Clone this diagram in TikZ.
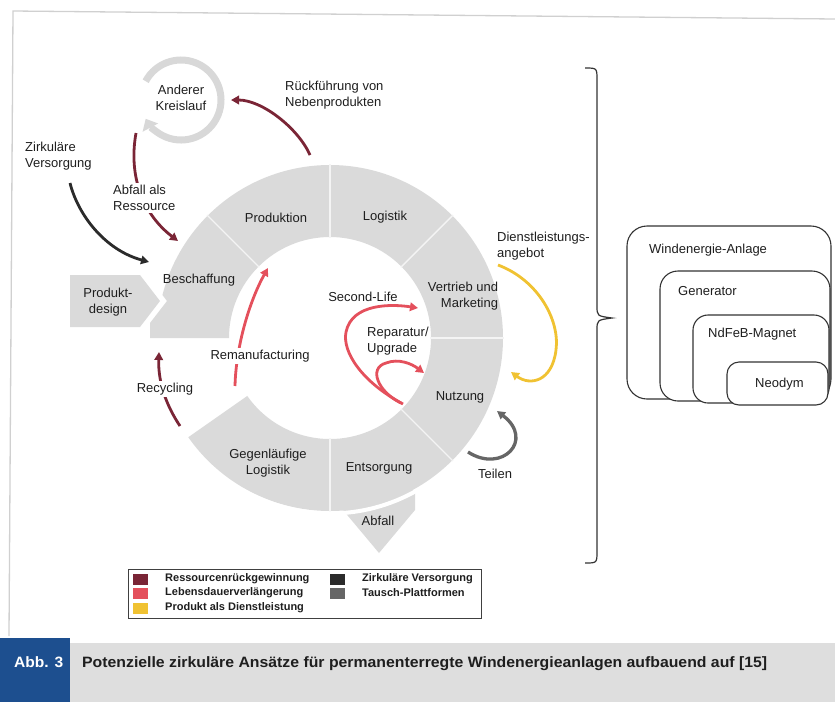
\documentclass[tikz,border=0pt]{standalone}
\usepackage{fontspec}
\usepackage{graphicx}
\setmainfont{Liberation Sans}
\usetikzlibrary{arrows.meta}
\definecolor{ringgray}{HTML}{DADADA}
\definecolor{kreisgray}{HTML}{D8D8D8}
\definecolor{resred}{HTML}{7A2536}
\definecolor{lifered}{HTML}{E4505C}
\definecolor{dienstyellow}{HTML}{F0C232}
\definecolor{versdark}{HTML}{2B2B2B}
\definecolor{tauschgray}{HTML}{666666}
\definecolor{capblue}{HTML}{1D4F8F}
\definecolor{capgray}{HTML}{DEDEDE}
\definecolor{txt}{HTML}{1E1E1E}
\definecolor{framegray}{HTML}{D0D0D0}
\begin{document}
\begin{tikzpicture}[x=1pt,y=-1pt,
  lbl/.style={font=\fontsize{13}{16}\selectfont, text=txt, inner sep=1pt, align=center},
  lblw/.style={lbl, fill=white, inner sep=2pt},
  con/.style={line width=2.8pt, -{Triangle[length=8pt,width=8.5pt]}},
  resarrow/.style={con, draw=resred},
  lifearrow/.style={con, draw=lifered},
  boxr/.style={draw=black!80, line width=1.1pt, fill=white},
  leg/.style={font=\bfseries\fontsize{11}{13}\selectfont, text=txt, inner sep=0pt, anchor=west},
  sq/.style={minimum width=15pt, minimum height=11pt, inner sep=0pt}
]
\useasboundingbox (0,0) rectangle (835,702);

% faint page frame
\draw[framegray, line width=1.3pt] (9,636) -- (13,11) -- (835,19);

% Abfall arrow shape and Produktdesign arrow shape
\fill[ringgray] (343,490) -- (415,490) -- (415,510) -- (379,553) -- (343,510) -- cycle;
\fill[ringgray] (70,275) -- (140,275) -- (160,301) -- (140,327) -- (70,327) -- cycle;

% ring
\coordinate (C) at (330,338);
\fill[ringgray] (C) ++(-135:173) arc[start angle=-135,end angle=-165.6,radius=173]
  -- (167,301) -- (150,323) -- (150,338) -- (229,338)
  arc[start angle=180,end angle=225,radius=101] -- cycle;
\fill[ringgray] (C) ++(-135:173) arc[start angle=-135,end angle=-90,radius=173] -- ++(90:72) arc[start angle=-90,end angle=-135,radius=101] -- cycle;
\fill[ringgray] (C) ++(-90:173) arc[start angle=-90,end angle=-45,radius=173] -- ++(135:72) arc[start angle=-45,end angle=-90,radius=101] -- cycle;
\fill[ringgray] (C) ++(-45:173) arc[start angle=-45,end angle=0,radius=173] -- ++(180:72) arc[start angle=0,end angle=-45,radius=101] -- cycle;
\fill[ringgray] (C) ++(0:173) arc[start angle=0,end angle=45,radius=173] -- ++(225:72) arc[start angle=45,end angle=0,radius=101] -- cycle;
\fill[ringgray] (C) ++(45:173) arc[start angle=45,end angle=90,radius=173] -- ++(270:72) arc[start angle=90,end angle=45,radius=101] -- cycle;
\fill[ringgray] (C) ++(90:173) arc[start angle=90,end angle=145,radius=173] -- ++(325:72) arc[start angle=145,end angle=90,radius=101] -- cycle;
\foreach \a in {-135,-90,-45,0,45,90}
  \draw[white!70!ringgray, line width=1.4pt] (C) ++(\a:100) -- ++(\a:74);
\draw[white, line width=4pt] (C) ++(60:175.5) arc[start angle=60,end angle=120,radius=175.5];

% ring labels
\node[lbl] (besch) at (199,280) {Beschaffung};
\node[lbl] (prod) at (276,218) {Produktion};
\node[lbl] (logi) at (385,217) {Logistik};
\node[lbl, align=right] (vertr) at (463,296) {Vertrieb und\\Marketing};
\node[lbl] (nutz) at (460,397) {Nutzung};
\node[lbl] (ents) at (379,468) {Entsorgung};
\node[lbl] (gegen) at (268,463) {Gegenläufige\\Logistik};
\node[lbl] (abfall) at (378,521) {Abfall};
\node[lbl] (pdesign) at (108,302) {Produkt-\\design};

% Anderer Kreislauf
\node[lbl] (kreis) at (181,98) {Anderer\\Kreislauf};
\draw[kreisgray, line width=7pt, -{Triangle[length=10pt,width=17pt]}]
  (181,100) ++(-152:40) arc[start angle=-152,end angle=152,radius=40];

% Rückführung von Nebenprodukten
\node[lbl, align=left, anchor=west] (rueck) at (284,95) {Rückführung von\\Nebenprodukten};
\coordinate (rA) at (310,155);
\coordinate (rB) at (231,100);
\draw[resarrow] (rA) .. controls (298,128) and (262,100) .. (rB);

% Abfall als Ressource
\coordinate (aA) at (136,133);
\coordinate (aB) at (178,241);
\draw[resarrow] (aA) .. controls (128,178) and (144,215) .. (aB);
\node[lblw, align=left, anchor=west] (abres) at (111,198) {Abfall als\\Ressource};

% Zirkuläre Versorgung
\node[lbl, align=left, anchor=west] (zirk) at (24,156) {Zirkuläre\\Versorgung};
\coordinate (zA) at (70,183);
\coordinate (zB) at (149,262);
\draw[con, draw=versdark] (zA) .. controls (78,215) and (105,250) .. (zB);

% Recycling
\coordinate (recA) at (180,426);
\coordinate (recB) at (159,352);
\draw[resarrow] (recA) .. controls (166,405) and (158,382) .. (recB);
\node[lblw] (recyc) at (165,389) {Recycling};

% Remanufacturing
\coordinate (remA) at (235,386);
\coordinate (remB) at (268,268);
\draw[lifearrow] (remA) .. controls (236,345) and (250,300) .. (remB);
\node[lblw] (reman) at (260,356) {Remanufacturing};

% Second-Life and Reparatur/Upgrade
\node[lbl] (slife) at (363,297) {Second-Life};
\node[lbl, align=left, anchor=west] (repar) at (366,341) {Reparatur/\\Upgrade};
\coordinate (sA) at (403,404);
\coordinate (sM) at (346,332);
\coordinate (sB) at (418,308);
\draw[lifearrow] (sA) .. controls (362,382) and (342,352) .. (sM) .. controls (352,303) and (392,304) .. (sB);
\coordinate (uA) at (401,403);
\coordinate (uM) at (386,363);
\coordinate (uB) at (424,373);
\draw[lifearrow] (uA) .. controls (378,392) and (368,368) .. (uM) .. controls (399,358) and (412,364) .. (uB);

% Dienstleistungsangebot
\node[lbl, align=left, anchor=west] (dienst) at (496,246) {Dienstleistungs-\\angebot};
\coordinate (dA) at (498,265);
\coordinate (dM) at (556,350);
\coordinate (dB) at (511,372);
\draw[con, draw=dienstyellow] (dA) .. controls (538,280) and (560,320) .. (dM) .. controls (552,382) and (530,386) .. (dB);

% Teilen
\node[lbl] (teilen) at (495,474) {Teilen};
\coordinate (tA) at (468,452);
\coordinate (tB) at (497,411);
\draw[con, draw=tauschgray, line width=3.3pt] (tA) .. controls (502,474) and (535,440) .. (tB);

% brace
\draw[black!80, line width=1.2pt] (585,68) .. controls (597,68) .. (597,80) -- (597,306)
  .. controls (597,316) .. (612,318) .. controls (597,320) .. (597,330) -- (597,551)
  .. controls (597,563) .. (585,563);

% nested boxes
\path[boxr, rounded corners=20pt] (627,226) rectangle (831,399);
\path[boxr, rounded corners=18pt] (660,271) rectangle (830,401);
\path[boxr, rounded corners=15pt] (693,315) rectangle (829,403);
\path[boxr, rounded corners=12pt] (727,362) rectangle (828,405);
\node[lbl, anchor=west] (wea) at (648,250) {Windenergie-Anlage};
\node[lbl, anchor=west] (gen) at (677,291) {Generator};
\node[lbl, anchor=west] (mag) at (707,334) {NdFeB-Magnet};
\node[lbl, anchor=west] (neo) at (754,384) {Neodym};

% legend
\draw[black!75, line width=1pt, fill=white] (128,569) rectangle (481,618);
\node[sq, fill=resred] (q1) at (140,579) {};
\node[sq, fill=lifered] (q2) at (140,593) {};
\node[sq, fill=dienstyellow] (q3) at (140,608) {};
\node[sq, fill=versdark] (q4) at (337,579) {};
\node[sq, fill=tauschgray] (q5) at (337,593) {};
\node[leg] (t1) at (165,579) {Ressourcenrückgewinnung};
\node[leg] (t2) at (165,593) {Lebensdauerverlängerung};
\node[leg] (t3) at (165,608) {Produkt als Dienstleistung};
\node[leg] (t4) at (362,579) {Zirkuläre Versorgung};
\node[leg] (t5) at (362,593) {Tausch-Plattformen};

% caption bar
\fill[capblue] (0,638) rectangle (70,702);
\fill[capgray] (70,643) rectangle (835,702);
\node[text=white, font=\bfseries\fontsize{15}{18}\selectfont, inner sep=0pt, anchor=base west] (abb) at (14,667) {\resizebox{49pt}{\height}{Abb. 3}};
\node[text=txt, font=\bfseries\fontsize{15}{18}\selectfont, inner sep=0pt, anchor=base west] (cap) at (82,667) {\resizebox{685pt}{\height}{Potenzielle zirkuläre Ansätze für permanenterregte Windenergieanlagen aufbauend auf [15]}};
\end{tikzpicture}
\end{document}
